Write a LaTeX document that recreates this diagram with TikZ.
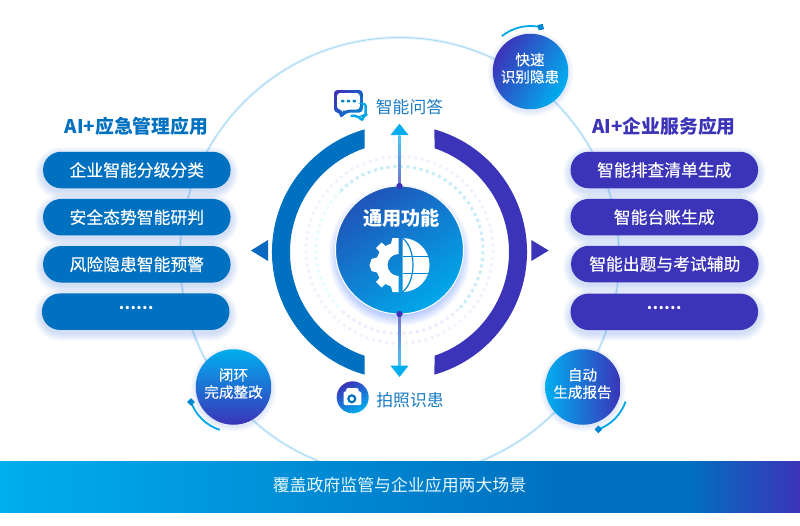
\documentclass[tikz,border=0pt]{standalone}
\usepackage{fontspec}
\setmainfont{Noto Sans CJK SC}
\newfontfamily\medf[FakeBold=0.25]{Noto Sans CJK SC}
\usetikzlibrary{calc}
\definecolor{cblue}{HTML}{0070C0}
\definecolor{cviol}{HTML}{3B34B8}
\definecolor{ccyan}{HTML}{00AEEF}
\definecolor{cmid}{HTML}{0086D2}
\definecolor{ccore}{HTML}{1F55B8}
\definecolor{cshadow}{HTML}{5E8CE6}
\definecolor{ctxt}{HTML}{1C7CC4}
\definecolor{cring}{HTML}{A5D9F6}
\pgfdeclarehorizontalshading{barshade}{100bp}{color(0bp)=(ccyan); color(25bp)=(ccyan); color(60bp)=(cblue); color(68bp)=(cblue); color(75bp)=(cviol); color(100bp)=(cviol)}
\newcommand{\pillglow}[4]{%
  \foreach \i in {1,...,8}{
    \fill[cshadow,opacity=.035,rounded corners={(18+\i)*1pt}] (#1-\i,#2+3-\i) rectangle (#3+\i,#4+3+\i);
  }}
\tikzset{
  pill/.style={rounded corners=18pt,minimum height=36.5pt,minimum width=187.5pt,inner sep=0pt,text=white,font=\medf\fontsize{16.8}{18}\selectfont},
  bluepill/.style={pill,fill=cblue},
  violpill/.style={pill,fill=cviol},
  badge/.style={circle,minimum size=75.5pt,inner sep=0pt},
  badgetext/.style={align=center,text=white,inner sep=0pt,font=\medf\fontsize{14.6}{17.2}\selectfont},
  title/.style={inner sep=0pt,font=\fontsize{18.8}{20}\selectfont\bfseries},
  sidelabel/.style={inner sep=0pt,text=ctxt,font=\fontsize{16.8}{18}\selectfont},
  swing/.style={line width=1.8pt,ccyan!90!cblue},
  endsq/.style={rectangle,fill=cmid,minimum size=5.5pt,inner sep=0pt},
  tipdot/.style={circle,fill=cviol,minimum size=6pt,inner sep=0pt},
  dotring/.style={line width=3pt,dash pattern=on 3pt off 3.6pt},
}
\begin{document}
\begin{tikzpicture}[x=1pt,y=-1pt]
\useasboundingbox (0,0) rectangle (800,525);
\fill[white] (0,0) rectangle (800,525);

% big ring
\coordinate (ringc) at (399.5,257);
\draw[cring!28,line width=3pt] (ringc) circle[radius=219.5];
\draw[cring,line width=.9pt] (ringc) circle[radius=219.5];
\fill[white] (0,461) rectangle (800,525);

% bottom band
\node[minimum width=800pt,minimum height=51pt,inner sep=0pt,shading=barshade,shading angle=0] (band) at (400,486.5) {};
\node[inner sep=0pt,text=white!90!ccyan,font=\fontsize{16.9}{18}\selectfont] (bandtext) at (399.5,485.5) {覆盖政府监管与企业应用两大场景};

% pills
\pillglow{43}{152}{230.5}{188}
\pillglow{43}{199}{230.5}{235}
\pillglow{43}{246}{230.5}{282}
\pillglow{42}{294}{229.5}{330}
\pillglow{571}{152}{758}{188}
\pillglow{571}{199}{758}{235}
\pillglow{571}{246}{758}{282}
\pillglow{571}{294}{758}{330}
\node[title,text=cblue] (ltitle) at (136.5,126.5) {AI+应急管理应用};
\node[title,text=cviol] (rtitle) at (664,126.5) {AI+企业服务应用};
\node[bluepill] (l1) at (136.8,170) {企业智能分级分类};
\node[bluepill] (l2) at (136.8,217.2) {安全态势智能研判};
\node[bluepill] (l3) at (136.8,264.3) {风险隐患智能预警};
\node[bluepill] (l4) at (135.7,311.7) {};
\node[inner sep=0pt,text=white,font=\fontsize{15.5}{16}\selectfont\bfseries] (l4t) at (136,307.7) {……};
\node[violpill] (r1) at (664.3,170) {智能排查清单生成};
\node[violpill] (r2) at (664.3,217.2) {智能台账生成};
\node[violpill] (r3) at (664.8,264) {智能出题与考试辅助};
\node[violpill] (r4) at (664.3,311.8) {};
\node[inner sep=0pt,text=white,font=\fontsize{15.5}{16}\selectfont\bfseries] (r4t) at (664,307.7) {……};

% dotted rings
\begin{scope}[shift={(399.5,250)}]
  \draw[dotring,color=blue!6!cyan!10] (225:83.5) arc[start angle=225,end angle=135,radius=83.5];
  \draw[dotring,color=cyan!22] (225:83.5) arc[start angle=225,end angle=405,radius=83.5];
  \draw[dotring,color=blue!7] (45:83.5) arc[start angle=45,end angle=135,radius=83.5];
  \draw[dotring,color=blue!5] (0:93.5) arc[start angle=0,end angle=360,radius=93.5];
\end{scope}

% big arcs
\begin{scope}[shift={(399.5,252)}]
  \fill[cblue] (105.93:127.5) arc[start angle=105.93,end angle=254.07,radius=127.5] -- (251.36:109.5) arc[start angle=251.36,end angle=108.64,radius=109.5] -- cycle;
  \fill[cviol] (-74.07:127.5) arc[start angle=-74.07,end angle=74.07,radius=127.5] -- (71.36:109.5) arc[start angle=71.36,end angle=-71.36,radius=109.5] -- cycle;
\end{scope}

% side triangles
\fill[cblue!85!cviol] (251,250.5) -- (268,240) -- (268,261) -- cycle;
\fill[cviol] (548.7,250.5) -- (531.3,240) -- (531.3,261) -- cycle;

% central shadow and circle
\foreach \i in {1,...,12}{
  \fill[blue!70!cyan,opacity=.028] (399.5,255) circle[radius=59+\i];
}
\node[circle,minimum size=128pt,inner sep=0pt,draw=white,line width=1pt,left color=ccore,middle color=cmid,right color=ccyan!85!cmid,shading angle=35] (core) at (399.5,250) {};
\node[inner sep=0pt,text=white,font=\fontsize{19.2}{20}\selectfont\bfseries] (coretext) at (401.5,218) {通用功能};

% gear
\begin{scope}[shift={(398.5,265)}]
  \fill[white] (0,-27) -- (-6,-27) -- (-7.5,-21.5) -- (-13,-19) -- (-17,-22.5) -- (-22.5,-17) -- (-19,-13) -- (-21.5,-7.5) -- (-27,-6) -- (-29,0) -- (-27,6) -- (-21.5,7.5) -- (-19,13) -- (-22.5,17) -- (-17,22.5) -- (-13,19) -- (-7.5,21.5) -- (-6,27) -- (0,27) -- (0,11) arc[start angle=90,end angle=270,radius=11] -- cycle;
\end{scope}
% globe
\begin{scope}[shift={(402.5,265)}]
  \fill[white] (0,-27) arc[start angle=270,end angle=450,radius=27] -- cycle;
  \draw[cmid,line width=1.2pt] (0,-8.5) -- (27,-8.5) (0,8.5) -- (27,8.5);
  \draw[cmid,line width=1.2pt] (0,-27) .. controls (14,-16) and (14,16) .. (0,27);
\end{scope}

% vertical connectors
\node[tipdot] (dottop) at (399.5,186) {};
\node[tipdot] (dotbot) at (399.5,314) {};
\coordinate (headtop) at (399.5,135);
\coordinate (headbot) at (399.5,366);
\draw[line width=1.5pt,color=cblue!50!ccyan] (dottop) -- (headtop);
\draw[line width=1.5pt,color=cblue!50!ccyan] (dotbot) -- (headbot);
\shade[top color=ccyan!70,bottom color=cviol!70] ($(headtop)+(-.8,0)$) rectangle ($(dottop)+(.8,0)$);
\shade[bottom color=ccyan!70,top color=cviol!70] ($(dotbot)+(-.8,0)$) rectangle ($(headbot)+(.8,0)$);
\node[tipdot] at (dottop) {};
\node[tipdot] at (dotbot) {};
\fill[ccyan] (399.5,123.7) -- (408.5,135) -- (390.5,135) -- cycle;
\fill[ccyan] (399.5,377) -- (408.5,365.7) -- (390.5,365.7) -- cycle;

% chat icon
\begin{scope}[even odd rule,rounded corners=3.5pt]
  \clip (334,90) -- (362.8,90) -- (362.8,112.5) -- (347,112.5) -- (340,119) -- (340,112.5) -- (334,112.5) -- cycle
     (336.8,92.8) -- (360,92.8) -- (360,109.7) -- (346,109.7) -- (342.8,112.7) -- (342.8,109.7) -- (336.8,109.7) -- cycle;
  \shade[left color=cviol,right color=cmid,shading angle=45,sharp corners] (332,88) rectangle (365,120);
\end{scope}
\draw[line width=2.4pt,ccyan!85!cblue,rounded corners=2pt] (363.8,104) -- (365.6,104) -- (365.6,115.5) -- (363.2,115.5) -- (362.6,120.5) -- (357,115.8) -- (350.5,115.8);
\fill[cblue!70!ccyan,rounded corners=.8pt] (341,99.8) rectangle (344.4,102.4) (346.8,99.8) rectangle (350.2,102.4) (352.6,99.8) rectangle (356,102.4);
\node[sidelabel] (qa) at (409.5,107) {智能问答};

% camera icon
\node[circle,minimum size=32pt,inner sep=0pt,left color=cviol,right color=ccyan,shading angle=30] (cam) at (352.7,397.3) {};
\fill[white,rounded corners=1.5pt] (343.5,391.3) rectangle (361.3,405.2);
\fill[white,rounded corners=1pt] (345.8,392) -- (346.8,388) -- (358,388) -- (359,392) -- cycle;
\fill[cblue] (351.8,398.8) circle[radius=4.6];
\fill[white] (351.8,398.8) circle[radius=2.1];
\node[sidelabel] (photo) at (410,400) {拍照识患};

% badges
\foreach \c/\r in {530.5/71.5,233.5/387,583/387}{
  \foreach \i in {1,...,6}{
    \fill[cshadow,opacity=.03] (\c,\r+2) circle[radius=37+\i];
  }
}
\node[badge,left color=cviol,middle color=cblue!80!ccyan,right color=ccyan,shading angle=60] (b1) at (530.5,71.5) {};
\node[badgetext] (b1t) at (530,68.2) {快速\\识别隐患};
\node[badge,left color=ccyan,middle color=cblue,right color=cviol,shading angle=0] (b2) at (233.5,387) {};
\node[badgetext] (b2t) at (233.5,383.6) {闭环\\完成整改};
\node[badge,left color=ccyan,middle color=cblue,right color=cviol,shading angle=90] (b3) at (583,387) {};
\node[badgetext] (b3t) at (582.5,383.6) {自动\\生成报告};

% swings
\draw[swing] ($(b1.center)+(231:45.5)$) arc[start angle=231,end angle=283,radius=45.5];
\node[endsq,rotate=13] (s1) at ($(b1.center)+(283:45.5)$) {};
\draw[swing] ($(b2.center)+(107.7:45)$) arc[start angle=107.7,end angle=160.6,radius=45];
\node[endsq,rotate=45] (s2) at ($(b2.center)+(160.6:45)$) {};
\draw[swing] ($(b3.center)+(18.9:45)$) arc[start angle=18.9,end angle=70,radius=45];
\node[endsq,rotate=45] (s3) at ($(b3.center)+(70:45)$) {};
\end{tikzpicture}
\end{document}
